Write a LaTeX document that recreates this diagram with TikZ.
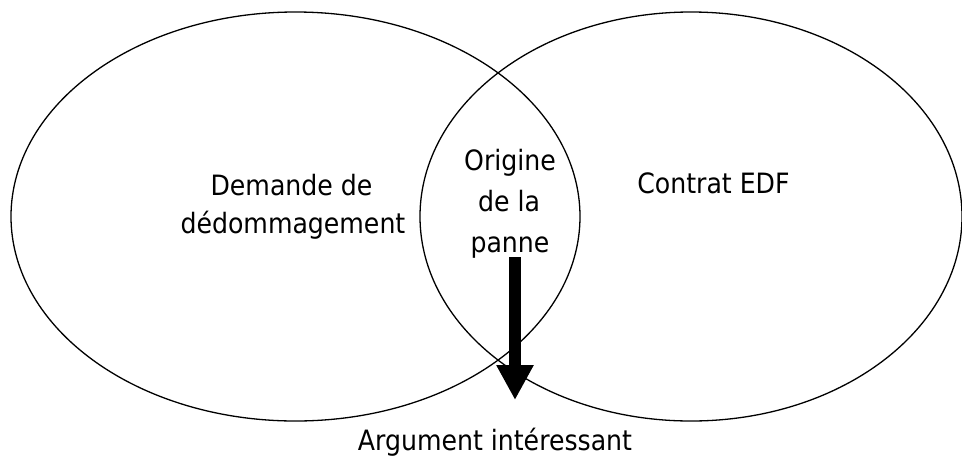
\documentclass[tikz,border=0pt]{standalone}
\usepackage{fontspec}
\setmainfont{DejaVu Sans Condensed}
\usetikzlibrary{arrows.meta}
\tikzset{
  venn/.style={draw=black, line width=1.3pt},
  lbl/.style={anchor=base, inner sep=0pt, font=\fontsize{28}{34}\selectfont},
  bigarrow/.style={line width=12pt, -{Triangle[length=35pt,width=35pt]}}
}
\begin{document}
\begin{tikzpicture}[x=1pt,y=-1pt]
\useasboundingbox (0,0) rectangle (962,459);
\fill[white] (0,0) rectangle (962,459);
\draw[venn] (295.5,216.5) ellipse [x radius=284.5, y radius=204.5];
\draw[venn] (691,216.5) ellipse [x radius=271, y radius=204.5];
\node[lbl] (dem1) at (291.5,195) {Demande de};
\node[lbl] (dem2) at (293,233) {dédommagement};
\node[lbl] (ori1) at (510,170) {Origine};
\node[lbl] (ori2) at (509,211) {de la};
\node[lbl] (ori3) at (510,252) {panne};
\node[lbl] (edf) at (713.5,193) {Contrat EDF};
\node[lbl] (arg) at (495,450) {Argument intéressant};
\coordinate (astart) at (515,257);
\coordinate (aend) at (515,400);
\draw[bigarrow] (astart) -- (aend);
\end{tikzpicture}
\end{document}
